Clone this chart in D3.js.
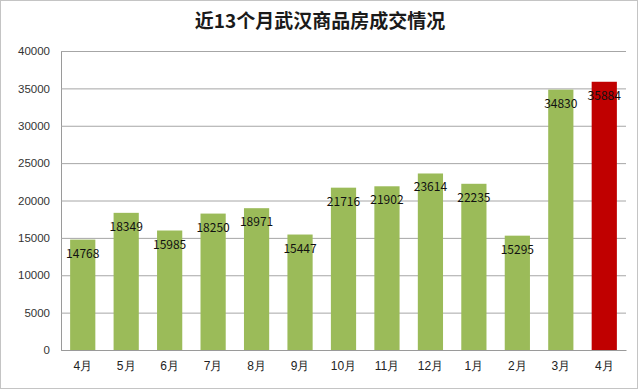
<!DOCTYPE html>
<html>
<head>
<meta charset="utf-8">
<script src="https://cdn.jsdelivr.net/npm/d3@7.9.0/dist/d3.min.js"></script>
<style>
  body { margin: 0; background: #fff; }
  svg { display: block; font-family: "Microsoft YaHei", "Noto Sans CJK SC", sans-serif; }
</style>
</head>
<body>
<div id="chart"></div>
<script>
const months = ["4月", "5月", "6月", "7月", "8月", "9月", "10月", "11月", "12月", "1月", "2月", "3月", "4月"];
const sales = [14768, 18349, 15985, 18250, 18971, 15447, 21716, 21902, 23614, 22235, 15295, 34830, 35884];
const yTicks = [0, 5000, 10000, 15000, 20000, 25000, 30000, 35000, 40000];
const title = "近13个月武汉商品房成交情况";

const width = 638, height = 389;
const margin = { top: 51, right: 12, bottom: 39, left: 61 };
const innerWidth = width - margin.left - margin.right;
const innerHeight = height - margin.top - margin.bottom;

const svg = d3.select("#chart").append("svg")
    .attr("width", width)
    .attr("height", height);

svg.append("rect")
    .attr("x", 0.5).attr("y", 0.5)
    .attr("width", width - 1).attr("height", height - 1)
    .attr("fill", "#fff")
    .attr("stroke", "#c4c4c4");

svg.append("text")
    .attr("x", 320)
    .attr("y", 28)
    .attr("text-anchor", "middle")
    .attr("fill", "#1a1a1a")
    .style("font-size", "19px")
    .style("font-weight", "bold")
    .text(title);

const chart = svg.append("g")
    .attr("transform", "translate(" + margin.left + "," + margin.top + ")");

// keys are indexes because the month names repeat
const xScale = d3.scaleBand()
    .domain(months.map((_, i) => i))
    .range([0, innerWidth])
    .paddingInner(0.42)
    .paddingOuter(0.21);

const yScale = d3.scaleLinear()
    .domain([0, 40000])
    .range([innerHeight, 0]);

const yAxis = chart.append("g")
    .call(d3.axisLeft(yScale).tickValues(yTicks).tickSize(-innerWidth).tickFormat(d3.format("d")));
yAxis.select(".domain").attr("stroke", "#9a9a9a");
yAxis.selectAll("line").attr("stroke", "#a6a6a6");
yAxis.selectAll("text")
    .attr("x", -11)
    .attr("fill", "#333")
    .style("font-size", "11.5px");

chart.selectAll("rect.bar")
    .data(sales)
    .join("rect")
    .attr("class", "bar")
    .attr("x", (_, i) => xScale(i))
    .attr("y", d => yScale(d))
    .attr("width", xScale.bandwidth())
    .attr("height", d => innerHeight - yScale(d))
    .attr("fill", (_, i) => i === sales.length - 1 ? "#c00000" : "#9bbb59");

chart.selectAll(".bar-label")
    .data(sales)
    .join("text")
    .attr("class", "bar-label")
    .attr("x", (_, i) => xScale(i) + xScale.bandwidth() / 2)
    .attr("y", d => yScale(d) + 18)
    .attr("text-anchor", "middle")
    .attr("fill", "#111")
    .style("font-size", "12px")
    .text(d => d);

const xAxis = chart.append("g")
    .attr("transform", "translate(0," + innerHeight + ")")
    .call(d3.axisBottom(xScale).tickSize(0).tickFormat(i => months[i]));
xAxis.select(".domain").attr("stroke", "#9a9a9a");
xAxis.selectAll("text")
    .attr("dy", "1.4em")
    .attr("fill", "#222")
    .style("font-size", "12px");
</script>
</body>
</html>
